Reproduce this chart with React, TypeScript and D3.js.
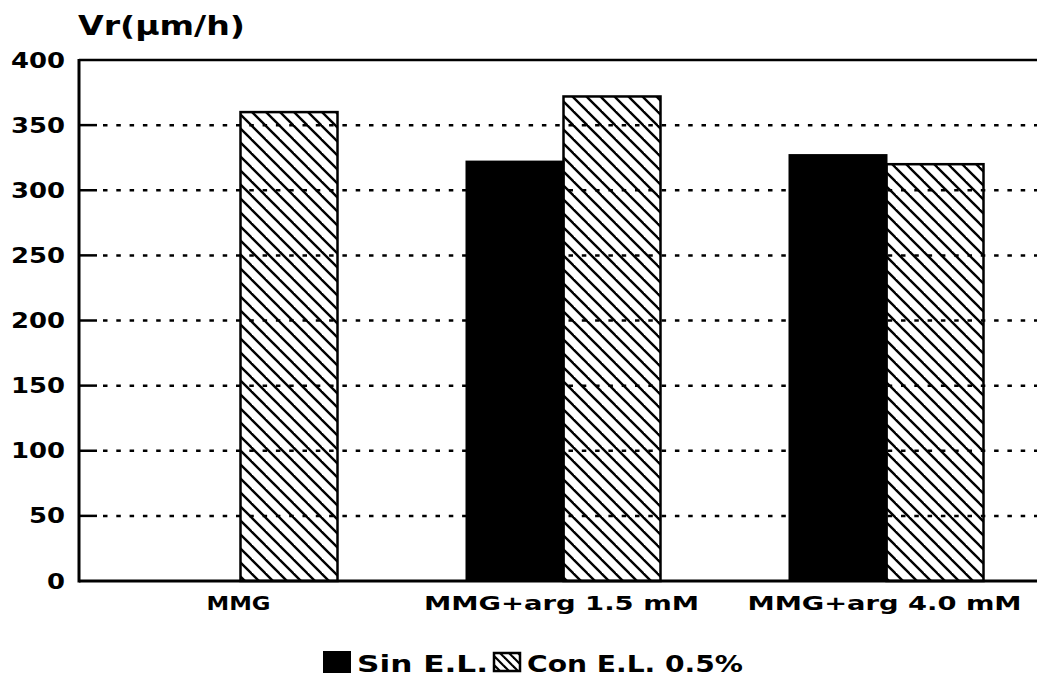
import React from "react";
import * as d3 from "d3";

const categories = ["MMG", "MMG+arg 1.5 mM", "MMG+arg 4.0 mM"];
const sinEL = [0, 322, 327];
const conEL = [360, 372, 320];
const yTicks = [0, 50, 100, 150, 200, 250, 300, 350, 400];
const seriesNames = ["Sin E.L.", "Con E.L. 0.5%"];
const yTitle = "Vr(µm/h)";

const W = 1037;
const H = 678;
const left = 79;
const top = 60;
const bottom = 581;
const font = "'DejaVu Sans', sans-serif";

export default function App() {
  const y = d3.scaleLinear().domain([0, 400]).range([bottom, top]);
  const x = d3.scaleBand<string>().domain(categories).range([left, left + 3 * 323]).paddingInner(0).paddingOuter(0);
  const barW = 97;
  const labelWidths = [64, 275, 274];

  return (
    <svg width={W} height={H} style={{ position: "absolute", left: 0, top: 0, background: "#fff" }}>
      <defs>
        <pattern id="hatch" patternUnits="userSpaceOnUse" width={14} height={14}>
          <line x1={0} y1={0} x2={14} y2={14} stroke="#000" strokeWidth={2.4} />
          <line x1={-7} y1={7} x2={7} y2={21} stroke="#000" strokeWidth={2.4} />
          <line x1={7} y1={-7} x2={21} y2={7} stroke="#000" strokeWidth={2.4} />
        </pattern>
        <pattern id="hatchL" patternUnits="userSpaceOnUse" width={9} height={9}>
          <line x1={0} y1={0} x2={9} y2={9} stroke="#000" strokeWidth={2.2} />
          <line x1={-4.5} y1={4.5} x2={4.5} y2={13.5} stroke="#000" strokeWidth={2.2} />
          <line x1={4.5} y1={-4.5} x2={13.5} y2={4.5} stroke="#000" strokeWidth={2.2} />
        </pattern>
      </defs>

      {/* gridlines */}
      {yTicks.filter((t) => t > 0 && t < 400).map((t) => (
        <g key={t}>
          <line x1={left} x2={left + 18} y1={y(t)} y2={y(t)} stroke="#000" strokeWidth={2.5} />
          <line x1={left + 24} x2={W} y1={y(t)} y2={y(t)} stroke="#000" strokeWidth={2.5} strokeDasharray="4.5 8.8" />
        </g>
      ))}

      {/* bars */}
      {categories.map((c, i) => {
        const cx = (x(c) as number) + x.bandwidth() / 2;
        return (
          <g key={c}>
            {sinEL[i] > 0 && (
              <rect x={cx - barW} y={y(sinEL[i])} width={barW} height={bottom - y(sinEL[i])} fill="#000" stroke="#000" strokeWidth={2} />
            )}
            <rect x={cx} y={y(conEL[i])} width={barW} height={bottom - y(conEL[i])} fill="url(#hatch)" stroke="#000" strokeWidth={2.5} />
          </g>
        );
      })}

      {/* frame */}
      <line x1={left} x2={W} y1={top} y2={top} stroke="#000" strokeWidth={2.5} />
      <line x1={left} x2={W} y1={bottom} y2={bottom} stroke="#000" strokeWidth={3} />
      <line x1={left} x2={left} y1={top - 1} y2={bottom + 1.5} stroke="#000" strokeWidth={3} />

      {/* y tick labels */}
      {yTicks.map((t) => (
        <text key={t} x={65} y={y(t) + 7.5} textAnchor="end" fontFamily={font} fontWeight="bold" fontSize={21}
          textLength={String(t).length * 18} lengthAdjust="spacingAndGlyphs">
          {t}
        </text>
      ))}

      {/* y title */}
      <text x={78} y={35} fontFamily={font} fontWeight="bold" fontSize={26} textLength={167} lengthAdjust="spacingAndGlyphs">
        {yTitle}
      </text>

      {/* category labels */}
      {categories.map((c, i) => {
        const cx = (x(c) as number) + x.bandwidth() / 2 - 2;
        return (
          <text key={c} x={cx - labelWidths[i] / 2} y={610} fontFamily={font} fontWeight="bold" fontSize={20}
            textLength={labelWidths[i]} lengthAdjust="spacingAndGlyphs">
            {c}
          </text>
        );
      })}

      {/* legend */}
      <rect x={323} y={651} width={28} height={22} fill="#000" />
      <text x={357} y={672} fontFamily={font} fontWeight="bold" fontSize={23} textLength={131} lengthAdjust="spacingAndGlyphs">
        {seriesNames[0]}
      </text>
      <rect x={494} y={653} width={26} height={18} fill="url(#hatchL)" stroke="#000" strokeWidth={2.5} />
      <text x={527} y={672} fontFamily={font} fontWeight="bold" fontSize={23} textLength={216} lengthAdjust="spacingAndGlyphs">
        {seriesNames[1]}
      </text>
    </svg>
  );
}
